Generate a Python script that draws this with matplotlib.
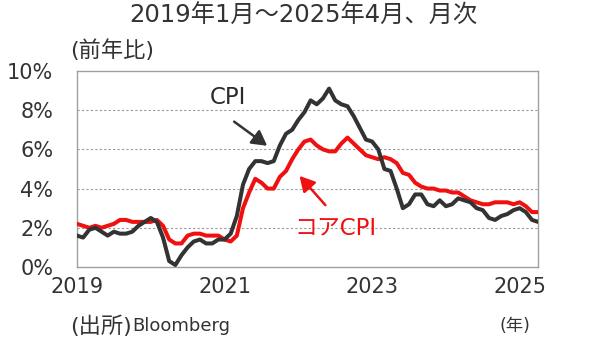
import matplotlib
matplotlib.use("Agg")
import matplotlib.pyplot as plt
import numpy as np

plt.rcParams['font.family'] = ['DejaVu Sans', 'Noto Sans CJK JP']

cpi = [1.6, 1.5, 1.9, 2.0, 1.8, 1.6, 1.8, 1.7, 1.7, 1.8, 2.1, 2.3,
       2.5, 2.3, 1.5, 0.3, 0.1, 0.6, 1.0, 1.3, 1.4, 1.2, 1.2, 1.4,
       1.4, 1.7, 2.6, 4.2, 5.0, 5.4, 5.4, 5.3, 5.4, 6.2, 6.8, 7.0,
       7.5, 7.9, 8.5, 8.3, 8.6, 9.1, 8.5, 8.3, 8.2, 7.7, 7.1, 6.5,
       6.4, 6.0, 5.0, 4.9, 4.0, 3.0, 3.2, 3.7, 3.7, 3.2, 3.1, 3.4,
       3.1, 3.2, 3.5, 3.4, 3.3, 3.0, 2.9, 2.5, 2.4, 2.6, 2.7, 2.9,
       3.0, 2.8, 2.4, 2.3]
core = [2.2, 2.1, 2.0, 2.1, 2.0, 2.1, 2.2, 2.4, 2.4, 2.3, 2.3, 2.3,
        2.3, 2.4, 2.1, 1.4, 1.2, 1.2, 1.6, 1.7, 1.7, 1.6, 1.6, 1.6,
        1.4, 1.3, 1.6, 3.0, 3.8, 4.5, 4.3, 4.0, 4.0, 4.6, 4.9, 5.5,
        6.0, 6.4, 6.5, 6.2, 6.0, 5.9, 5.9, 6.3, 6.6, 6.3, 6.0, 5.7,
        5.6, 5.5, 5.6, 5.5, 5.3, 4.8, 4.7, 4.3, 4.1, 4.0, 4.0, 3.9,
        3.9, 3.8, 3.8, 3.6, 3.4, 3.3, 3.2, 3.2, 3.3, 3.3, 3.3, 3.2,
        3.3, 3.1, 2.8, 2.8]
year_labels = ['2019', '2021', '2023', '2025']
year_ticks = [0, 24, 48, 72]
y_ticks = [0, 2, 4, 6, 8, 10]
y_labels = ['0%', '2%', '4%', '6%', '8%', '10%']

months = np.arange(len(cpi))
TXT = '#333333'

fig = plt.figure(figsize=(5.92, 3.55), dpi=100)
ax = fig.add_axes([0.130, 0.248, 0.779, 0.552])

ax.plot(months, core, color='#f01010', lw=2.9, solid_joinstyle='round', zorder=3)
ax.plot(months, cpi, color='#333333', lw=2.9, solid_joinstyle='round', zorder=4)

ax.set_xlim(0, len(cpi) - 1)
ax.set_ylim(0, 10)
ax.set_yticks(y_ticks)
ax.set_yticklabels(y_labels)
ax.set_xticks(year_ticks)
ax.set_xticklabels(year_labels)
ax.tick_params(length=0, labelsize=15, colors=TXT)
ax.tick_params(axis='y', pad=17)
ax.tick_params(axis='x', pad=7)

for y in [2, 4, 6, 8]:
    ax.axhline(y, color='#9a9a9a', lw=0.8, ls=(0, (2, 2)), zorder=1)
for s in ax.spines.values():
    s.set_color('#a0a0a0')
    s.set_linewidth(1.0)

ax.annotate('', xy=(31.3, 6.1), xytext=(25.2, 7.5),
            arrowprops=dict(arrowstyle='-|>,head_length=0.9,head_width=0.5',
                            color='#333333', lw=1.8), zorder=5)
ax.text(24.6, 8.67, 'CPI', ha='center', va='center', fontsize=16.5,
        color='#2a2a2a')

ax.annotate('', xy=(35.9, 4.75), xytext=(40.7, 3.05),
            arrowprops=dict(arrowstyle='-|>,head_length=0.9,head_width=0.5',
                            color='#f01010', lw=1.8), zorder=5)
ax.text(42.1, 1.99, 'コアCPI', ha='center', va='center', fontsize=16.5,
        color='#f01010')

fig.text(0.512, 0.955, '2019年1月～2025年4月、月次', ha='center', va='center',
         fontsize=17.5, color=TXT)
fig.text(0.118, 0.858, '(前年比)', ha='left', va='center', fontsize=16,
         color=TXT)
fig.text(0.118, 0.082, '(出所)', ha='left', va='center', fontsize=16,
         color=TXT)
fig.text(0.223, 0.082, 'Bloomberg', ha='left', va='center', fontsize=13,
         color=TXT)
fig.text(0.87, 0.082, '(年)', ha='center', va='center', fontsize=12.5,
         color=TXT)

fig.savefig('out.png', dpi=100)
